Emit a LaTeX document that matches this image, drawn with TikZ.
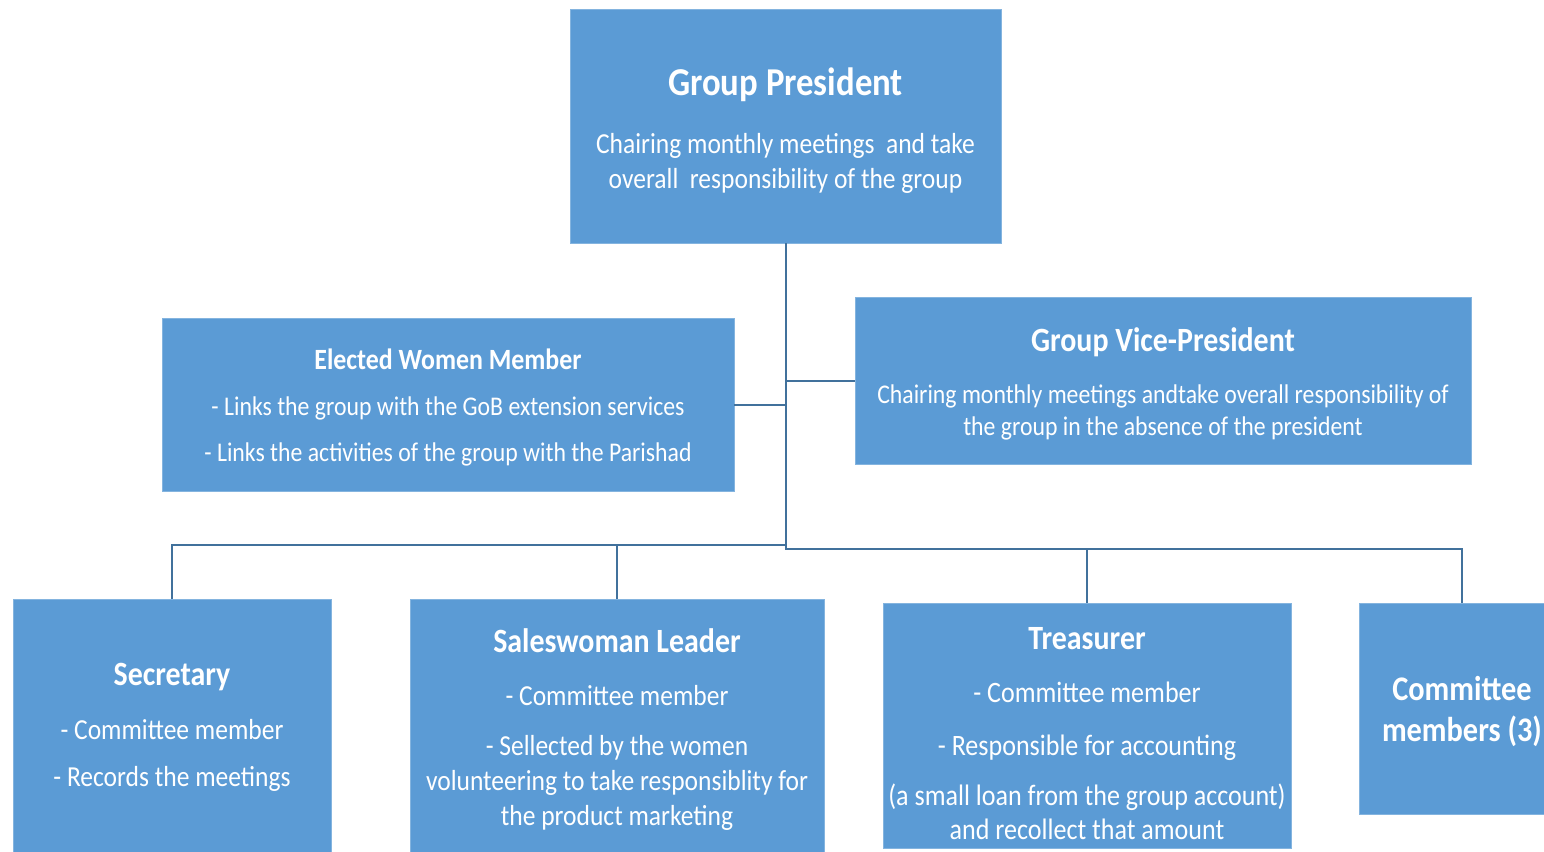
\documentclass[tikz,border=0pt]{standalone}
\usepackage{fontspec}
\setmainfont{Carlito}[FakeStretch=0.88]
\usetikzlibrary{calc}
\definecolor{boxblue}{HTML}{5B9BD5}
\definecolor{linkblue}{HTML}{41719C}
\newcommand{\boxhead}[2]{{\bfseries\fontsize{#1}{#1}\selectfont #2}}
% extra height on a first line, pushes the text block down a little
\newcommand{\highstrut}[1]{\rule{0pt}{#1}}

\begin{document}
\begin{tikzpicture}[x=1pt,y=-1pt,
    box/.style={rectangle,fill=boxblue,draw=boxblue!75!white,line width=0.8pt,
      text=white,align=center,inner sep=0pt},
    link/.style={draw=linkblue,line width=2pt}]
  \useasboundingbox (0,0) rectangle (1544,851);
  % top of the tree
  \node[box,minimum width=431pt,minimum height=234pt,
    font=\fontsize{29}{35}\selectfont] (pres) at (785.5,126)
    {\highstrut{36pt}\boxhead{39.5}{Group President}\\[23pt]
     Chairing monthly meetings~ and take\\
     overall~ responsibility of the group};
  \node[box,minimum width=572pt,minimum height=173pt,
    font=\fontsize{27}{46}\selectfont] (elect) at (448,404.5)
    {\highstrut{27pt}\boxhead{29.4}{Elected Women Member}\\
     - Links the group with the GoB extension services\\
     - Links the activities of the group with the Parishad};
  \node[box,minimum width=616pt,minimum height=167pt,
    font=\fontsize{27}{32}\selectfont] (vice) at (1163,380.5)
    {\highstrut{30pt}\boxhead{34}{Group Vice-President}\\[20pt]
     Chairing monthly meetings andtake overall responsibility of\\
     the group in the absence of the president};
  % committee row
  \node[box,minimum width=318pt,minimum height=256pt,
    font=\fontsize{29}{47}\selectfont] (secr) at (172,727)
    {\boxhead{34}{Secretary}\\[7pt]
     - Committee member\\
     - Records the meetings};
  \node[box,minimum width=414pt,minimum height=256pt,
    font=\fontsize{29}{35}\selectfont] (sales) at (617,727)
    {\highstrut{28pt}\boxhead{34}{Saleswoman Leader}\\[18pt]
     - Committee member\\[15pt]
     - Sellected by the women\\
     volunteering to take responsiblity for\\
     the product marketing};
  \node[box,minimum width=408pt,minimum height=245pt,
    font=\fontsize{29.6}{34}\selectfont] (treas) at (1087,725.5)
    {\highstrut{38pt}\boxhead{34}{Treasurer}\\[19pt]
     - Committee member\\[19pt]
     - Responsible for accounting\\[16pt]
     (a small loan from the group account)\\
     and recollect that amount};
  \node[box,minimum width=206pt,minimum height=211pt,
    font=\bfseries\fontsize{34.5}{41}\selectfont] (comm) at (1462,708.5)
    {\highstrut{30pt}Committee\\members (3)};
  % connectors
  \draw[link] (pres.south) |- (vice.west);
  \draw[link] (pres.south) |- (elect.east);
  \draw[link] (pres.south) -- ++(0,302) -| (secr.north);
  \draw[link] (pres.south) -- ++(0,302) -| (sales.north);
  \draw[link] (pres.south) -- ++(0,306) -| (treas.north);
  \draw[link] (pres.south) -- ++(0,306) -| (comm.north);
\end{tikzpicture}
\end{document}
